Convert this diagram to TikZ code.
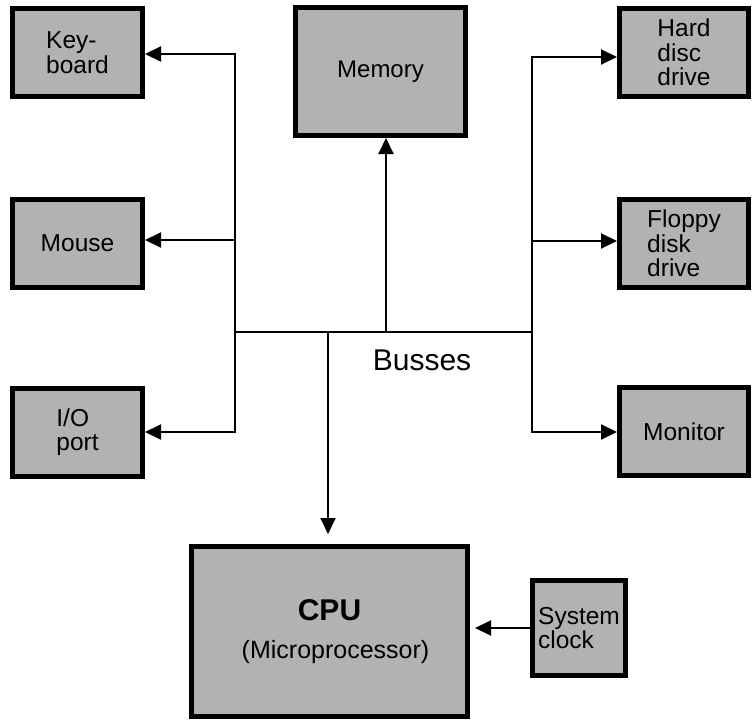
\documentclass[tikz,border=0pt]{standalone}
\usepackage{fontspec}
\setmainfont{Liberation Sans}
\usetikzlibrary{arrows.meta}
\definecolor{boxgray}{RGB}{178,178,178}
\begin{document}
\begin{tikzpicture}[x=1pt,y=-1pt,
  unit/.style={draw=black, line width=5pt, fill=boxgray, inner sep=0pt,
    align=left, text=black, font=\fontsize{24.5}{24.5}\selectfont},
  small/.style={minimum width=130pt, minimum height=88pt},
  conn/.style={line width=2pt, line cap=rect},
  arr/.style={line width=2pt, -{Triangle[length=16pt,width=15pt]}}]
\useasboundingbox (0,0) rectangle (755,720);

% boxes
\node[unit, small] (kb) at (77.5,52.5) {Key-\\board};
\node[unit, small] (mouse) at (77.5,243.5) {Mouse};
\node[unit, small] (io) at (77.5,432) {I/O\\port};
\node[unit, minimum width=170pt, minimum height=128pt, font=\fontsize{24}{24}\selectfont] (mem) at (380.5,71.5) {Memory};
\node[unit, minimum width=129pt, minimum height=88pt] (hdd) at (684,52.5) {Hard\\disc\\drive};
\node[unit, minimum width=129pt, minimum height=88pt] (fdd) at (684,243.5) {Floppy\\disk\\drive};
\node[unit, minimum width=129pt, minimum height=88pt] (mon) at (684,431.5) {Monitor};
\node[unit, align=center, minimum width=276pt, minimum height=170pt] (cpu) at (329.5,631.5)
  {{\fontsize{30}{30}\selectfont\bfseries CPU}\\[13pt]\hspace*{12pt}{\fontsize{25}{25}\selectfont(Microprocessor)}};
\node[unit, minimum width=93pt, minimum height=95pt] (clk) at (579,628) {System\\clock};

% label
\node[inner sep=0pt, font=\fontsize{30}{30}\selectfont] (bus) at (422,360.5) {Busses};

% junctions
\coordinate (lt) at (235,54);
\coordinate (lm) at (235,240);
\coordinate (lb) at (235,432);
\coordinate (rt) at (532,57);
\coordinate (rm) at (532,241);
\coordinate (rb) at (532,432);
\coordinate (bl) at (235,332);
\coordinate (br) at (532,332);
\coordinate (cj) at (328,332);
\coordinate (mj) at (386,332);

% bus lines
\draw[conn] (lt) -- (lb);
\draw[conn] (rt) -- (rb);
\draw[conn] (bl) -- (br);

% arrows
\draw[arr] (lt) -- (lt -| kb.east);
\draw[arr] (lm) -- (lm -| mouse.east);
\draw[arr] (lb) -- (lb -| io.east);
\draw[arr] (rt) -- (rt -| hdd.west);
\draw[arr] (rm) -- (rm -| fdd.west);
\draw[arr] (rb) -- (rb -| mon.west);
\draw[arr] (mj) -- (mj |- mem.south);
\draw[arr, shorten >=10pt] (cj) -- (cj |- cpu.north);
\draw[arr, shorten >=5pt] (clk.west) -- (clk.west -| cpu.east);
\end{tikzpicture}
\end{document}
